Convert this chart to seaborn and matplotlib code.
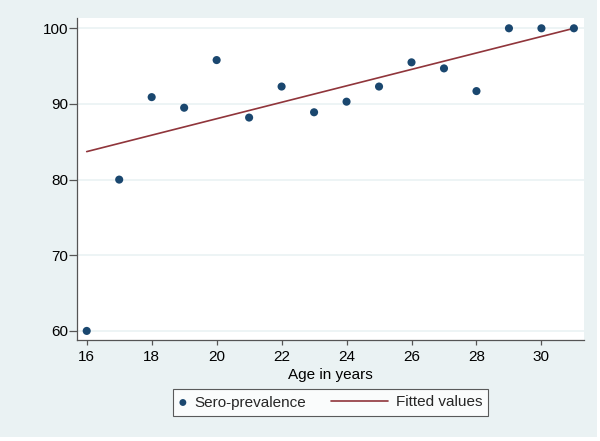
import seaborn as sns
import pandas as pd
import matplotlib.pyplot as plt
from matplotlib.patches import Rectangle
from matplotlib.legend_handler import HandlerLine2D

# Values
ages = [16, 17, 18, 19, 20, 21, 22, 23, 24, 25, 26, 27, 28, 29, 30, 31]
prevalence = [60.0, 80.0, 90.9, 89.5, 95.8, 88.2, 92.3, 88.9, 90.3, 92.3,
              95.5, 94.7, 91.7, 100.0, 100.0, 100.0]
fit_ages = [16, 31]
fit_values = [83.7, 100.0]
x_ticks = [16, 18, 20, 22, 24, 26, 28, 30]
y_ticks = [60, 70, 80, 90, 100]

df = pd.DataFrame({"age": ages, "prev": prevalence})
fit = pd.DataFrame({"age": fit_ages, "fit": fit_values})

sns.set_theme(style="white")
plt.rcParams["font.family"] = ["Liberation Sans", "DejaVu Sans"]

bg = "#EAF2F3"
navy = "#1A476F"
maroon = "#90353B"


# Stata-style legend: short key for the dots, long key for the line
class LongLine(HandlerLine2D):
    def create_artists(self, legend, orig_handle, xdescent, ydescent, width,
                       height, fontsize, trans):
        extra = 3.2 * fontsize
        return super().create_artists(legend, orig_handle, xdescent + extra,
                                      ydescent, width + extra, height, fontsize, trans)


fig = plt.figure(figsize=(6.0, 4.41), dpi=100)
fig.patch.set_facecolor("white")
fig.patches.append(Rectangle((0, 4 / 441), 597 / 600, 437 / 441, transform=fig.transFigure,
                             facecolor=bg, edgecolor="none", zorder=-10))

ax = fig.add_axes([77.3 / 600, 1 - 340 / 441, (584.3 - 77.3) / 600, (340 - 17.7) / 441])
ax.set_facecolor("white")

for y in y_ticks:
    ax.axhline(y, color=bg, lw=1.2, zorder=0)

sns.scatterplot(data=df, x="age", y="prev", ax=ax, color=navy, s=34,
                edgecolor="none", zorder=3, label="Sero-prevalence")
sns.lineplot(data=fit, x="age", y="fit", ax=ax, color=maroon, lw=1.2,
             zorder=2, label="Fitted values")

ax.set_xlim(15.71, 31.32)
ax.set_ylim(58.8, 101.4)
ax.set_xticks(x_ticks)
ax.set_yticks(y_ticks)
ax.set_xlabel("Age in years", fontsize=11, labelpad=3, color="black")
ax.set_ylabel("")
ax.tick_params(axis="both", direction="out", width=0.9, color="#555555",
               labelsize=11, labelcolor="black", left=True, bottom=True)
ax.tick_params(axis="x", length=3.6, pad=3.5)
ax.tick_params(axis="y", length=5.8, pad=0.8)

for side in ["top", "right"]:
    ax.spines[side].set_visible(False)
for side in ["left", "bottom"]:
    ax.spines[side].set_color("#555555")
    ax.spines[side].set_linewidth(0.9)

handles, labels = ax.get_legend_handles_labels()
ax.legend_.remove()
leg = fig.legend(handles, labels, loc="center", bbox_to_anchor=(330.5 / 600, 1 - 402.5 / 441),
                 ncol=2, frameon=True, fancybox=False, fontsize=11,
                 handlelength=0.55, columnspacing=4.8, handletextpad=0.5,
                 borderpad=0.4, edgecolor="#333333", markerscale=0.85,
                 handler_map={handles[1]: LongLine()})
leg.get_frame().set_linewidth(0.8)
leg.get_frame().set_facecolor("white")

plt.savefig("out.png", dpi=100, facecolor=fig.get_facecolor())
